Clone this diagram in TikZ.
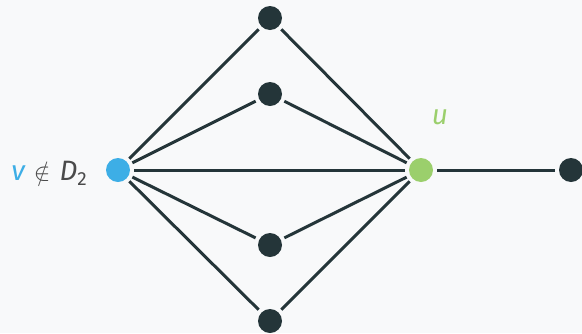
\documentclass[tikz,border=0pt]{standalone}
\usepackage{fontspec}
\setmainfont{Fira Sans}
\definecolor{bg}{HTML}{F8F9FA}
\definecolor{vblue}{HTML}{3DAEE6}
\definecolor{ugreen}{HTML}{9BCF6C}
\definecolor{dark}{HTML}{243539}
\definecolor{lbl}{HTML}{4A4A4A}
\tikzset{
  vtx/.style={circle, fill=dark, minimum size=24pt, inner sep=0pt, outer sep=4pt},
  edge/.style={draw=dark, line width=3pt},
}
\begin{document}
\begin{tikzpicture}[x=1pt, y=-1pt]
  \fill[bg] (0,0) rectangle (582,333);
  \useasboundingbox (0,0) rectangle (582,333);
  % vertices
  \node[vtx, fill=vblue] (v) at (118,170) {};
  \node[vtx, fill=ugreen] (u) at (421,170) {};
  \node[vtx] (r) at (571,170) {};
  \node[vtx] (a) at (270,18) {};
  \node[vtx] (b) at (270,94) {};
  \node[vtx] (c) at (270,245) {};
  \node[vtx] (d) at (270,321) {};
  % edges
  \foreach \m in {a,b,c,d} {
    \draw[edge] (v) -- (\m);
    \draw[edge] (\m) -- (u);
  }
  \draw[edge] (v) -- (u);
  \draw[edge] (u) -- (r);
  % labels
  \node[anchor=east, inner sep=0pt, font=\fontsize{28}{32}\selectfont] (vl) at (87,173)
    {\textcolor{vblue}{\itshape v}\hspace{9pt}\textcolor{lbl}{$\notin$}\hspace{9pt}\textcolor{lbl}{\itshape D\raisebox{-5pt}{\fontsize{19}{22}\selectfont\upshape 2}}};
  \node[inner sep=0pt, font=\fontsize{28}{32}\selectfont, text=ugreen] (ul) at (440,117) {\itshape u};
\end{tikzpicture}
\end{document}
